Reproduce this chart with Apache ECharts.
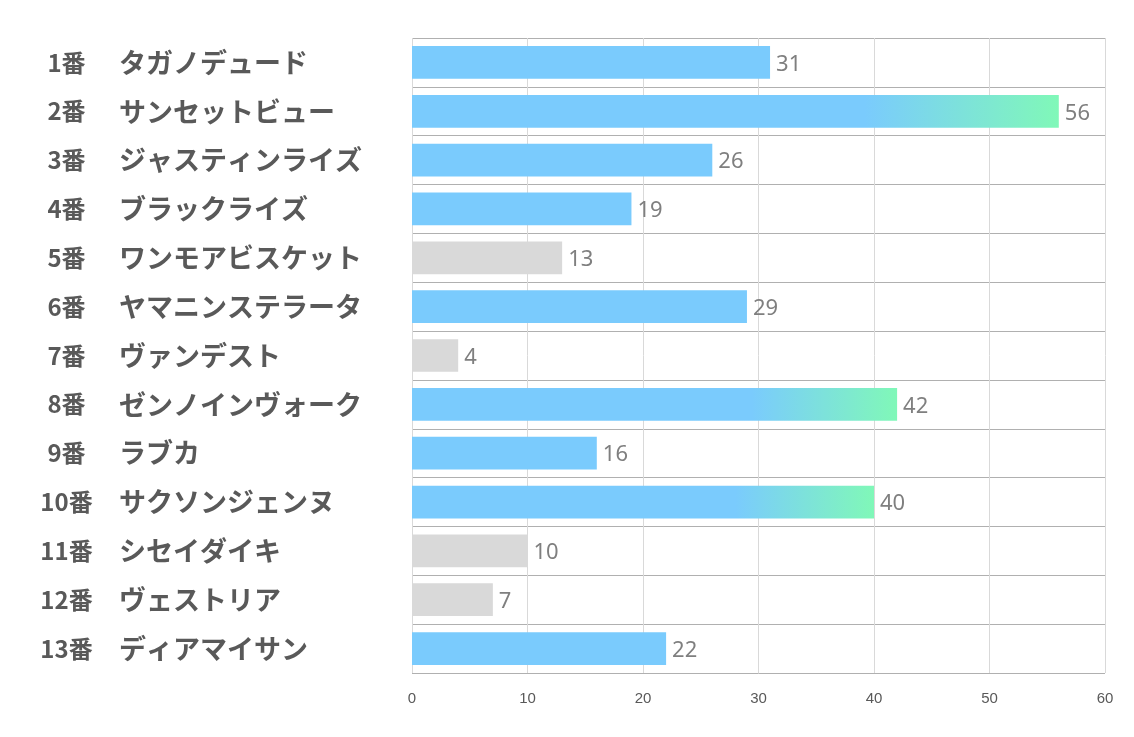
<!DOCTYPE html>
<html><head><meta charset="utf-8">
<script src="https://cdn.jsdelivr.net/npm/echarts@6/dist/echarts.min.js"></script>
<style>html,body{margin:0;padding:0;background:#fff}#c{width:1134px;height:737px}</style>
</head><body><div id="c"></div>
<script>
const numbers = ['1番','2番','3番','4番','5番','6番','7番','8番','9番','10番','11番','12番','13番'];
const names = ['タガノデュード','サンセットビュー','ジャスティンライズ','ブラックライズ','ワンモアビスケット','ヤマニンステラータ','ヴァンデスト','ゼンノインヴォーク','ラブカ','サクソンジェンヌ','シセイダイキ','ヴェストリア','ディアマイサン'];
const values = [31,56,26,19,13,29,4,42,16,40,10,7,22];
const groups = ['blue','grad','blue','blue','gray','blue','gray','grad','blue','grad','gray','gray','blue'];
const xTicks = [0,10,20,30,40,50,60];

const BLUE = '#7acbfd', GREEN = '#80f8b8', GRAY = '#d9d9d9';
function colorFor(g){
  if (g === 'gray') return GRAY;
  if (g === 'grad') return new echarts.graphic.LinearGradient(0,0,1,0,[{offset:0,color:BLUE},{offset:0.7,color:BLUE},{offset:1,color:GREEN}]);
  return BLUE;
}
const cats = numbers.map((n,i)=> n + '|' + names[i]);
const chart = echarts.init(document.getElementById('c'));
chart.setOption({
  animation:false,
  grid:{left:412,right:29,top:38,bottom:64,containLabel:false},
  xAxis:{type:'value',min:xTicks[0],max:xTicks[xTicks.length-1],interval:10,
    axisLine:{show:false},axisTick:{show:false},
    axisLabel:{color:'#595959',fontSize:15,fontFamily:'Liberation Sans Narrow, Liberation Sans, sans-serif',margin:18},
    splitLine:{show:true,lineStyle:{color:'#d9d9d9',width:1}}},
  yAxis:{type:'category',data:cats,inverse:true,
    axisLine:{show:false},axisTick:{show:false},
    splitLine:{show:true,lineStyle:{color:'#b0b0b0',width:1}},
    axisLabel:{align:'left',margin:374,
      formatter:function(v){const p=v.split('|');return '{n|'+p[0]+'}{s|'+p[1]+'}';},
      rich:{
        n:{width:57,align:'right',fontSize:24,fontWeight:'bold',color:'#595959',fontFamily:'Noto Sans CJK JP, sans-serif'},
        s:{padding:[0,0,0,24],fontSize:27,fontWeight:'bold',color:'#595959',fontFamily:'Noto Sans CJK JP, sans-serif'}
      }}},
  series:[{type:'bar',barWidth:'67%',
    data:values.map((v,i)=>({value:v,itemStyle:{color:colorFor(groups[i])}})),
    label:{show:true,position:'right',distance:6,offset:[0,2],color:'#7f7f7f',fontSize:22,fontFamily:'Noto Sans, sans-serif'}}]
});
</script></body></html>
